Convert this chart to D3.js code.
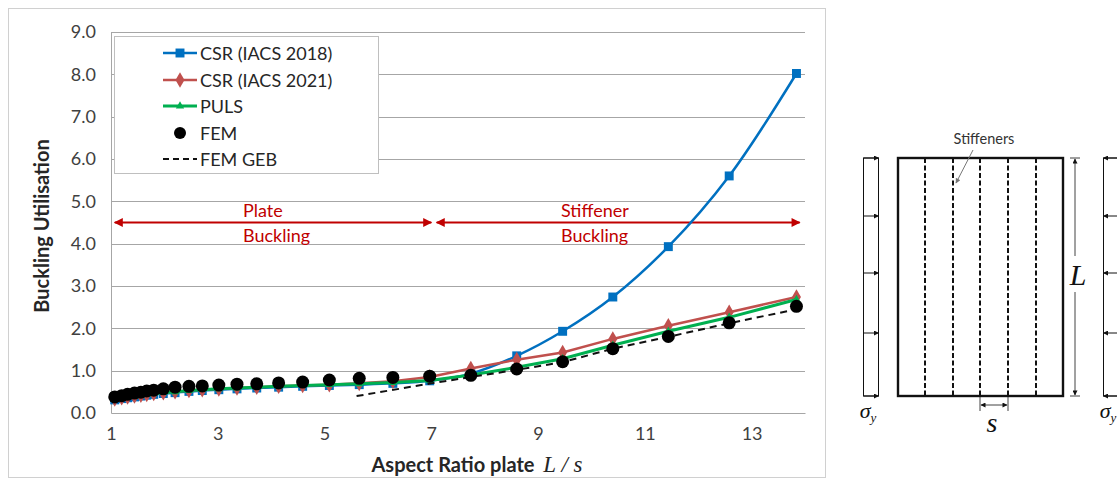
<!DOCTYPE html>
<html>
<head>
<meta charset="utf-8">
<script src="https://cdn.jsdelivr.net/npm/d3@7"></script>
<style>
  body { margin: 0; background: #fff; }
  text { font-family: Lato, "Liberation Sans", sans-serif; }
</style>
</head>
<body>
<script>
// Aspect ratios L/s shared by the buckling series.
var ratios = [1.07, 1.2, 1.31, 1.44, 1.56, 1.67, 1.8, 1.98, 2.2, 2.46, 2.71, 3.02, 3.36, 3.73,
              4.14, 4.59, 5.09, 5.65, 6.28, 6.97, 7.74, 8.6, 9.46, 10.4, 11.44, 12.58, 13.84];

// Buckling utilisation values.
var csr2018 = [0.31, 0.34, 0.36, 0.38, 0.40, 0.42, 0.44, 0.46, 0.48, 0.51, 0.53, 0.55, 0.57, 0.59,
               0.61, 0.63, 0.65, 0.67, 0.70, 0.76, 0.93, 1.35, 1.93, 2.74, 3.93, 5.60, 8.02];
var csr2021 = [0.33, 0.36, 0.38, 0.40, 0.42, 0.44, 0.46, 0.48, 0.50, 0.53, 0.55, 0.57, 0.59, 0.61,
               0.63, 0.65, 0.67, 0.70, 0.75, 0.85, 1.05, 1.26, 1.43, 1.75, 2.06, 2.38, 2.74];
var puls    = [0.33, 0.36, 0.38, 0.40, 0.42, 0.44, 0.46, 0.48, 0.50, 0.53, 0.55, 0.57, 0.59, 0.61,
               0.63, 0.65, 0.67, 0.69, 0.72, 0.77, 0.90, 1.08, 1.28, 1.60, 1.93, 2.26, 2.68];
var fem     = [0.38, 0.41, 0.44, 0.47, 0.49, 0.52, 0.54, 0.57, 0.61, 0.63, 0.64, 0.66, 0.68, 0.69,
               0.71, 0.73, 0.78, 0.82, 0.84, 0.87, 0.89, 1.04, 1.21, 1.52, 1.81, 2.13, 2.52];

// FEM GEB dashed line.
var gebRatios = [5.6, 7.0, 7.74, 8.6, 9.46, 10.4, 11.44, 12.58, 13.84];
var gebValues = [0.40, 0.70, 0.85, 1.02, 1.20, 1.52, 1.80, 2.12, 2.45];

// Tick labels.
var yTicks = [0, 1, 2, 3, 4, 5, 6, 7, 8, 9];
var xTicks = [1, 3, 5, 7, 9, 11, 13];

var legendNames = ["CSR (IACS 2018)", "CSR (IACS 2021)", "PULS", "FEM", "FEM GEB"];

var width = 1117, height = 480;
var red = "#c00000";
var serif = "'Liberation Serif', 'DejaVu Serif', serif";

var svg = d3.select("body").append("svg")
    .attr("width", width)
    .attr("height", height);

// Chart frame.
svg.append("rect")
    .attr("x", 8.5).attr("y", 8.5)
    .attr("width", 817).attr("height", 469)
    .attr("fill", "none").attr("stroke", "#d0d0d0");

var x = d3.scaleLinear().domain([1, 14]).range([111, 805]);
var y = d3.scaleLinear().domain([0, 9]).range([413, 32]);

// Gridlines.
svg.append("g").selectAll("line")
    .data(yTicks.slice(1))
    .join("line")
    .attr("x1", x(1)).attr("x2", x(14))
    .attr("y1", d => Math.round(y(d)) + 0.5).attr("y2", d => Math.round(y(d)) + 0.5)
    .attr("stroke", "#a6a6a6");

// Axes.
var yAxis = svg.append("g")
    .attr("transform", "translate(" + x(1) + ",0)")
    .call(d3.axisLeft(y).tickValues(yTicks).tickFormat(d3.format(".1f")).tickSize(0).tickPadding(15));
var xAxis = svg.append("g")
    .attr("transform", "translate(0," + y(0) + ")")
    .call(d3.axisBottom(x).tickValues(xTicks).tickFormat(d3.format("d")).tickSize(0).tickPadding(14));
[yAxis, xAxis].forEach(function(a) {
  a.select(".domain").attr("stroke", "#a6a6a6");
  a.selectAll("text").attr("font-size", 18).attr("fill", "#404040");
});

// Axis titles.
svg.append("text")
    .attr("transform", "translate(49,226) rotate(-90)")
    .attr("text-anchor", "middle")
    .attr("font-size", 20).attr("font-weight", "bold").attr("fill", "#262626")
    .text("Buckling Utilisation");

var xt = svg.append("text")
    .attr("x", 477).attr("y", 472)
    .attr("text-anchor", "middle")
    .attr("font-size", 20).attr("font-weight", "bold").attr("fill", "#262626");
xt.append("tspan").text("Aspect Ratio plate ");
xt.append("tspan")
    .style("font-family", serif)
    .attr("font-style", "italic").attr("font-weight", "normal").attr("font-size", 23)
    .attr("dx", 4)
    .text("L / s");

// Arrowheads.
var defs = svg.append("defs");
defs.append("marker").attr("id", "ah").attr("viewBox", "0 0 10 10")
    .attr("refX", 9).attr("refY", 5).attr("markerWidth", 11).attr("markerHeight", 9)
    .attr("markerUnits", "userSpaceOnUse").attr("orient", "auto-start-reverse")
    .append("path").attr("d", "M0,0L10,5L0,10Z").attr("fill", red);
defs.append("marker").attr("id", "gh").attr("viewBox", "0 0 10 10")
    .attr("refX", 9).attr("refY", 5).attr("markerWidth", 7).attr("markerHeight", 5)
    .attr("markerUnits", "userSpaceOnUse").attr("orient", "auto-start-reverse")
    .append("path").attr("d", "M0,0L10,5L0,10Z").attr("fill", "#777");
defs.append("marker").attr("id", "kh").attr("viewBox", "0 0 10 10")
    .attr("refX", 9).attr("refY", 5).attr("markerWidth", 7).attr("markerHeight", 5)
    .attr("markerUnits", "userSpaceOnUse").attr("orient", "auto-start-reverse")
    .append("path").attr("d", "M0,0L10,5L0,10Z").attr("fill", "#111");

// Red arrows for buckling regimes.
var regimes = [
  {from: 1.07, to: 7.0, label: ["Plate", "Buckling"], tx: 243},
  {from: 7.1, to: 13.9, label: ["Stiffener", "Buckling"], tx: 561}
];
regimes.forEach(function(r) {
  svg.append("line")
      .attr("x1", x(r.from)).attr("x2", x(r.to))
      .attr("y1", y(4.5)).attr("y2", y(4.5))
      .attr("stroke", red).attr("stroke-width", 2)
      .attr("marker-start", "url(#ah)").attr("marker-end", "url(#ah)");
  r.label.forEach(function(t, i) {
    svg.append("text")
        .attr("x", r.tx).attr("y", y(4.5) - 6 + i * 25)
        .attr("font-size", 18).attr("fill", red)
        .text(t);
  });
});

// Series.
function pts(vals) { return ratios.map((r, i) => [r, vals[i]]); }
var line = d3.line().x(d => x(d[0])).y(d => y(d[1]));
var smooth = d3.line().x(d => x(d[0])).y(d => y(d[1])).curve(d3.curveCatmullRom.alpha(0.5));

var series = [
  {vals: csr2018, color: "#0070c0", width: 2.5, gen: smooth, marker: d3.symbolSquare, size: 80},
  {vals: csr2021, color: "#c0504d", width: 2.5, gen: line, marker: d3.symbolDiamond, size: 70},
  {vals: puls,    color: "#00b050", width: 3,   gen: line, marker: d3.symbolTriangle, size: 30}
];

series.forEach(function(s) {
  svg.append("path")
      .attr("d", s.gen(pts(s.vals)))
      .attr("fill", "none").attr("stroke", s.color).attr("stroke-width", s.width);
  svg.append("g").selectAll("path")
      .data(pts(s.vals))
      .join("path")
      .attr("transform", d => "translate(" + x(d[0]) + "," + y(d[1]) + ")")
      .attr("d", d3.symbol(s.marker, s.size))
      .attr("fill", s.color);
});

svg.append("path")
    .attr("d", line(gebRatios.map((r, i) => [r, gebValues[i]])))
    .attr("fill", "none").attr("stroke", "#111").attr("stroke-width", 2)
    .attr("stroke-dasharray", "7,5");

svg.append("g").selectAll("circle")
    .data(pts(fem))
    .join("circle")
    .attr("cx", d => x(d[0])).attr("cy", d => y(d[1]))
    .attr("r", 6.5).attr("fill", "#000");

// Legend.
var lg = svg.append("g");
lg.append("rect")
    .attr("x", 114.5).attr("y", 36.5).attr("width", 264).attr("height", 137)
    .attr("fill", "#fff").attr("stroke", "#bfbfbf");
var rowY = [53, 80, 106, 133, 159];
legendNames.forEach(function(name, i) {
  var yy = rowY[i];
  if (i < 3) {
    var s = series[i];
    lg.append("line").attr("x1", 163).attr("x2", 197).attr("y1", yy).attr("y2", yy)
        .attr("stroke", s.color).attr("stroke-width", s.width);
    lg.append("path").attr("transform", "translate(180," + yy + ")")
        .attr("d", d3.symbol(s.marker, s.size)).attr("fill", s.color);
  } else if (i === 3) {
    lg.append("circle").attr("cx", 180).attr("cy", yy).attr("r", 6).attr("fill", "#000");
  } else {
    lg.append("line").attr("x1", 163).attr("x2", 197).attr("y1", yy).attr("y2", yy)
        .attr("stroke", "#111").attr("stroke-width", 2).attr("stroke-dasharray", "6,4");
  }
  lg.append("text").attr("x", 200).attr("y", yy + 6.5)
      .attr("font-size", 18).attr("fill", "#262626").text(name);
});

// Plate diagram on the right.
var dg = svg.append("g").attr("stroke", "#111").attr("fill", "none");
var pTop = 158, pBot = 396;
var arrowsY = [158, 216, 273, 333, 396];

// Left stress block.
dg.append("rect").attr("x", 863.5).attr("y", pTop).attr("width", 15).attr("height", pBot - pTop);
arrowsY.forEach(function(a) {
  dg.append("line").attr("x1", 863.5).attr("x2", 878.5).attr("y1", a).attr("y2", a)
      .attr("marker-end", "url(#kh)");
});
// Right stress block (clipped by page edge).
dg.append("rect").attr("x", 1103.5).attr("y", pTop).attr("width", 20).attr("height", pBot - pTop);
arrowsY.forEach(function(a) {
  dg.append("line").attr("x1", 1118).attr("x2", 1103.5).attr("y1", a).attr("y2", a)
      .attr("marker-end", "url(#kh)");
});

// Plate with stiffeners.
dg.append("rect").attr("x", 898).attr("y", pTop).attr("width", 165).attr("height", pBot - pTop)
    .attr("stroke-width", 2.4);
[925, 953, 980, 1008, 1036].forEach(function(sx) {
  dg.append("line").attr("x1", sx).attr("x2", sx).attr("y1", pTop).attr("y2", pBot)
      .attr("stroke-width", 2).attr("stroke-dasharray", "5,2.5");
});

// L dimension.
dg.append("line").attr("x1", 1070).attr("x2", 1080).attr("y1", pTop).attr("y2", pTop).attr("stroke-width", 0.8);
dg.append("line").attr("x1", 1070).attr("x2", 1080).attr("y1", pBot).attr("y2", pBot).attr("stroke-width", 0.8);
dg.append("line").attr("x1", 1075).attr("x2", 1075).attr("y1", 256).attr("y2", pTop + 1)
    .attr("stroke-width", 0.8).attr("marker-end", "url(#kh)");
dg.append("line").attr("x1", 1075).attr("x2", 1075).attr("y1", 292).attr("y2", pBot - 1)
    .attr("stroke-width", 0.8).attr("marker-end", "url(#kh)");

// s dimension.
dg.append("line").attr("x1", 980).attr("x2", 980).attr("y1", 397).attr("y2", 411).attr("stroke-width", 0.8);
dg.append("line").attr("x1", 1008).attr("x2", 1008).attr("y1", 397).attr("y2", 411).attr("stroke-width", 0.8);
dg.append("line").attr("x1", 994).attr("x2", 981).attr("y1", 405).attr("y2", 405)
    .attr("stroke-width", 0.8).attr("marker-end", "url(#kh)");
dg.append("line").attr("x1", 994).attr("x2", 1007).attr("y1", 405).attr("y2", 405)
    .attr("stroke-width", 0.8).attr("marker-end", "url(#kh)");

// Stiffeners leader.
dg.append("line").attr("x1", 973).attr("x2", 956).attr("y1", 150).attr("y2", 183)
    .attr("stroke", "#777").attr("stroke-width", 1).attr("marker-end", "url(#gh)");
svg.append("text").attr("x", 984).attr("y", 144).attr("text-anchor", "middle")
    .attr("font-size", 14.5).attr("fill", "#333").text("Stiffeners");

// Symbols.
svg.append("text").attr("x", 1078).attr("y", 285).attr("text-anchor", "middle")
    .style("font-family", serif).attr("font-style", "italic").attr("font-size", 30)
    .attr("fill", "#111").text("L");
svg.append("text").attr("x", 992).attr("y", 432).attr("text-anchor", "middle")
    .style("font-family", serif).attr("font-style", "italic").attr("font-size", 28)
    .attr("fill", "#111").text("s");
[868, 1108].forEach(function(sx) {
  var t = svg.append("text").attr("x", sx).attr("y", 418).attr("text-anchor", "middle")
      .style("font-family", serif).attr("font-style", "italic").attr("font-size", 22)
      .attr("fill", "#111");
  t.append("tspan").text("σ");
  t.append("tspan").attr("font-size", 13).attr("dy", 4).text("y");
});
</script>
</body>
</html>
